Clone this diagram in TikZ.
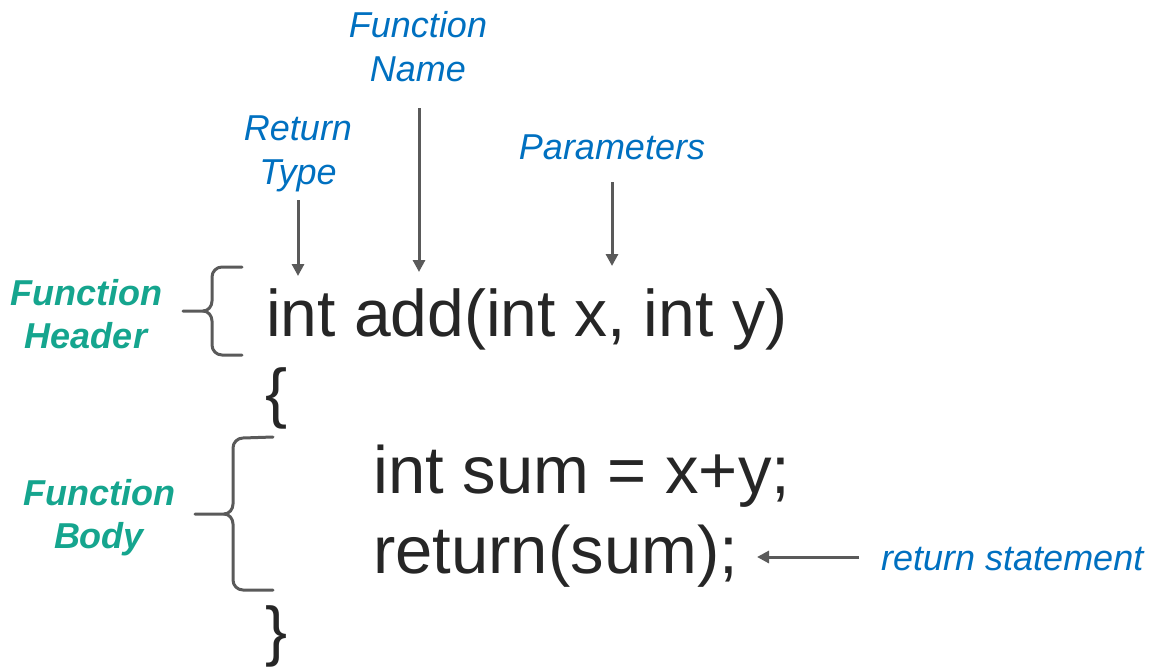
\documentclass[tikz,border=0pt]{standalone}
\usepackage{fontspec}
\setmainfont{Liberation Sans}
\usetikzlibrary{arrows.meta}
\definecolor{lblblue}{HTML}{0070C0}
\definecolor{lblteal}{HTML}{15A58E}
\definecolor{codegray}{HTML}{262626}
\definecolor{linegray}{HTML}{5A5A5A}
\tikzset{
  codetext/.style={anchor=base west,inner sep=0pt,text=codegray,font=\fontsize{66}{80}\selectfont},
  bodytext/.style={codetext,font=\fontsize{67}{80}\selectfont},
  bluelbl/.style={anchor=base,inner sep=0pt,align=center,text=lblblue,font=\fontsize{36}{44}\selectfont\itshape},
  teallbl/.style={anchor=base,inner sep=0pt,align=center,text=lblteal,font=\fontsize{36}{43}\selectfont\bfseries\itshape},
  arr/.style={draw=linegray,line width=3pt,-{Triangle[length=12pt,width=12pt]}},
  bracepath/.style={draw=linegray,line width=3pt,line cap=round,line join=round},
}
\begin{document}
\begin{tikzpicture}[x=1pt,y=-1pt]
\useasboundingbox (0,0) rectangle (1154,667);
% code
\node[codetext] (hdr) at (266,336) {int add(int x, int y)};
\node[codetext] (ob) at (265,415) {\{};
\node[bodytext] (l1) at (373,493) {int sum = x+y;};
\node[bodytext] (l2) at (373,573) {return(sum);};
\node[codetext] (cb) at (265,653) {\}};
% blue labels
\node[bluelbl] (fname) at (418,81) {Function\\Name};
\node[bluelbl] (rtype) at (298,184) {Return\\Type};
\node[bluelbl] (params) at (612,159) {Parameters};
\node[bluelbl,anchor=base west] (rstmt) at (881,570) {return statement};
% teal labels
\node[teallbl] (fhead) at (86,348) {Function\\Header};
\node[teallbl] (fbody) at (99,548) {Function\\Body};
% arrow endpoints
\coordinate (fnS) at (419,108);
\coordinate (fnE) at (419,272);
\coordinate (rtS) at (298,200);
\coordinate (rtE) at (298,276);
\coordinate (paS) at (612,182);
\coordinate (paE) at (612,266);
\coordinate (rsS) at (859,557);
\coordinate (rsE) at (757,557);
\draw[arr] (fnS) -- (fnE);
\draw[arr] (rtS) -- (rtE);
\draw[arr] (paS) -- (paE);
\draw[arr] (rsS) -- (rsE);
% header brace
\draw[bracepath] (242,267) -- (222,267) to[out=180,in=90] (212,277) -- (212,301)
  to[out=-90,in=0] (203,311) -- (183,311);
\draw[bracepath] (203,311) to[out=0,in=90] (212,321) -- (212,345)
  to[out=-90,in=180] (222,355) -- (242,355);
% body brace
\draw[bracepath] (273,437) -- (243,438) to[out=180,in=90] (233,448) -- (233,504)
  to[out=-90,in=0] (224,514) -- (195,514);
\draw[bracepath] (224,514) to[out=0,in=90] (233,524) -- (233,580)
  to[out=-90,in=180] (243,590) -- (273,590);
\end{tikzpicture}
\end{document}
